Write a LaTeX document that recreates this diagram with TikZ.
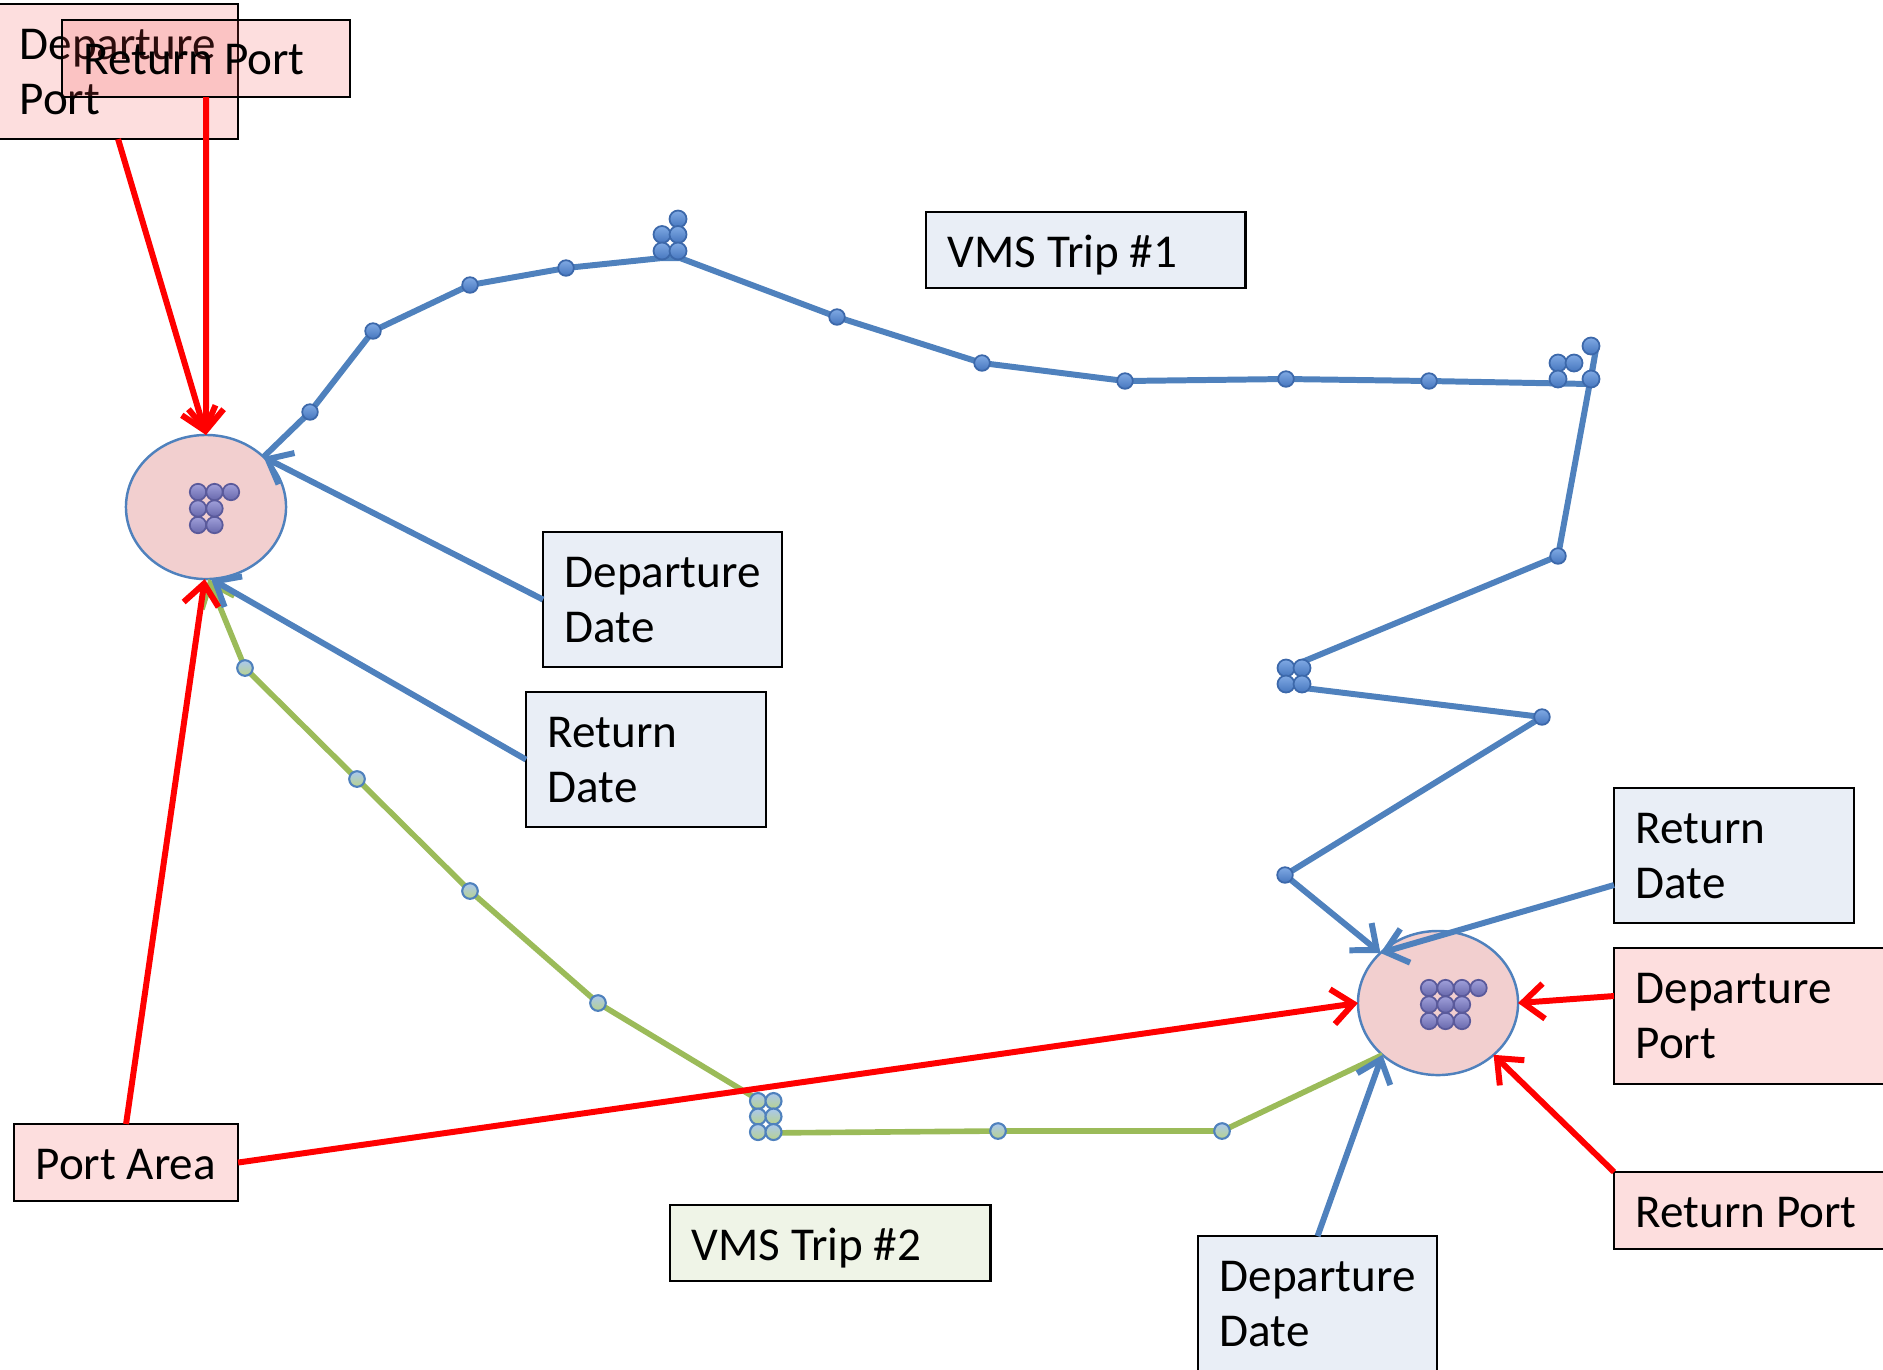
\documentclass[tikz,border=0pt]{standalone}
\usepackage{fontspec}
\setmainfont{Carlito}
\usetikzlibrary{arrows.meta,calc,shapes.geometric}
\definecolor{tripblue}{RGB}{79,129,189}
\definecolor{tripgreen}{RGB}{155,187,89}
\definecolor{arrowred}{RGB}{255,0,0}
\definecolor{pinkfill}{RGB}{244,72,72}
\definecolor{boxblue}{RGB}{233,238,246}
\definecolor{boxgreen}{RGB}{239,244,231}
\definecolor{ellfill}{RGB}{242,207,207}
\definecolor{ellblue}{RGB}{79,129,189}
\newcommand\twolines[2]{\vtop{\hbox{#1}\hbox{#2}}}
\begin{document}
\begin{tikzpicture}[x=0.01cm,y=-0.01cm,
  boxbase/.style={rectangle, draw=black, line width=0.75pt, anchor=north west, inner sep=0pt, outer sep=0pt},
  pinkbox/.style={boxbase, fill=pinkfill, fill opacity=0.18},
  bluebox/.style={boxbase, fill=boxblue},
  greenbox/.style={boxbase, fill=boxgreen},
  lbl/.style={anchor=base west, inner sep=0pt, font=\fontsize{13.4pt}{15.9pt}\selectfont},
  port/.style={ellipse, draw=ellblue, line width=0.7pt, fill=ellfill, minimum width=1.60cm, minimum height=1.44cm, inner sep=0pt, outer sep=0pt},
  redarrow/.style={draw=arrowred, line width=1.7pt, -{Straight Barb[length=6pt,width=10pt]}},
  bluearrow/.style={draw=tripblue, line width=1.7pt, -{Straight Barb[length=6pt,width=10pt]}},
  tripone/.style={draw=tripblue, line width=1.7pt, line join=round},
  triptwo/.style={draw=tripgreen, line width=1.6pt, line join=round},
  ballone/.style={top color={rgb,255:red,128;green,170;blue,228}, bottom color={rgb,255:red,70;green,118;blue,190}, draw={rgb,255:red,60;green,104;blue,170}, line width=0.5pt},
  balltwo/.style={top color={rgb,255:red,170;green,200;blue,240}, bottom color={rgb,255:red,184;green,210;blue,140}, draw={rgb,255:red,79;green,129;blue,189}, line width=0.6pt},
  ballport/.style={top color={rgb,255:red,160;green,160;blue,218}, bottom color={rgb,255:red,104;green,104;blue,172}, draw={rgb,255:red,90;green,90;blue,155}, line width=0.5pt}
]
\useasboundingbox (0,0) rectangle (1883,1369);
\clip (0,0) rectangle (1883,1369);

% port areas
\node[port] (e1) at (206,507) {};
\node[port] (e2) at (1438,1003) {};
\foreach \p in {(198,492),(214.5,492),(231,492),(198,508.5),(214.5,508.5),(198,525),(214.5,525)}
  \shadedraw[ballport] \p circle (0.082cm);
\foreach \p in {(1429,988),(1445.5,988),(1462,988),(1478.5,988),(1429,1004.5),(1445.5,1004.5),(1462,1004.5),(1429,1021),(1445.5,1021),(1462,1021)}
  \shadedraw[ballport] \p circle (0.082cm);

% trip 1 coordinates
\coordinate (t1) at (310,412);
\coordinate (t2) at (373,331);
\coordinate (t3) at (470,285);
\coordinate (t4) at (566,268);
\coordinate (t5) at (837,317);
\coordinate (t6) at (982,363);
\coordinate (t7) at (1125,381);
\coordinate (t8) at (1286,379);
\coordinate (t9) at (1429,381);
\coordinate (t10) at (1558,556);
\coordinate (t11) at (1542,717);
\coordinate (t12) at (1285,875);

% trip 2 coordinates
\coordinate (g1) at (245,668);
\coordinate (g2) at (357,779);
\coordinate (g3) at (470,891);
\coordinate (g4) at (598,1003);
\coordinate (g5) at (998,1131);
\coordinate (g6) at (1222,1131);

% trip 2 line and dots
\draw[triptwo, {Straight Barb[length=6pt,width=10pt]}-] (e1.-88) -- (g1) -- (g2) -- (g3) -- (g4) -- (752,1096) -- (760,1133) -- (g5) -- (g6) -- (e2.-137);
\foreach \p in {(g1),(g2),(g3),(g4),(g5),(g6)}
  \shadedraw[balltwo] \p circle (0.078cm);
\foreach \p in {(758,1101),(773.5,1101),(758,1116.5),(773.5,1116.5),(758,1132),(773.5,1132)}
  \shadedraw[balltwo] \p circle (0.08cm);

% trip 1 line and dots
\draw[tripone, -{Straight Barb[length=6pt,width=10pt]}] (e1.41) -- (t1) -- (t2) -- (t3) -- (t4) -- (662,258) -- (680,258) -- (t5) -- (t6) -- (t7) -- (t8) -- (t9) -- (1590,384) -- (1596,349) -- (t10) -- (1302,662) -- (1304,688) -- (t11) -- (t12) -- (e2.139);
\foreach \p in {(t1),(t2),(t3),(t4),(t5),(t6),(t7),(t8),(t9),(t10),(t11),(t12)}
  \shadedraw[ballone] \p circle (0.078cm);
\foreach \p in {(678,219),(662,234.5),(678,234.5),(662,251),(678,251),
                (1558,363),(1574,363),(1591,346),(1558,379),(1591,379),
                (1286,668),(1302,668),(1286,684),(1302,684)}
  \shadedraw[ballone] \p circle (0.085cm);

% boxes and labels
\node[pinkbox, minimum width=2.40cm, minimum height=1.35cm] (dp1) at (-2,4) {};
\node[lbl] (dp1t) at ($(dp1.north west)+(21,55)$) {\twolines{Departure}{Port}};
\node[pinkbox, minimum width=2.88cm, minimum height=0.77cm] (rp1) at (62,20) {};
\node[lbl] (rp1t) at ($(rp1.north west)+(21,54)$) {Return Port};

\node[bluebox, minimum width=3.19cm, minimum height=0.76cm] (vms1) at (926,212) {};
\node[lbl] (vms1t) at ($(vms1.north west)+(21,55)$) {VMS Trip \#1};

\node[bluebox, minimum width=2.39cm, minimum height=1.35cm] (dd1) at (543,532) {};
\node[lbl] (dd1t) at ($(dd1.north west)+(21,55)$) {\twolines{Departure}{Date}};

\node[bluebox, minimum width=2.40cm, minimum height=1.35cm] (rd1) at (526,692) {};
\node[lbl] (rd1t) at ($(rd1.north west)+(21,55)$) {\twolines{Return}{Date}};

\node[bluebox, minimum width=2.40cm, minimum height=1.35cm] (rd2) at (1614,788) {};
\node[lbl] (rd2t) at ($(rd2.north west)+(21,55)$) {\twolines{Return}{Date}};

\node[pinkbox, minimum width=2.90cm, minimum height=1.36cm] (dp2) at (1614,948) {};
\node[lbl] (dp2t) at ($(dp2.north west)+(21,55)$) {\twolines{Departure}{Port}};

\node[pinkbox, minimum width=2.90cm, minimum height=0.77cm] (rp2) at (1614,1172) {};
\node[lbl] (rp2t) at ($(rp2.north west)+(21,55)$) {Return Port};

\node[pinkbox, minimum width=2.24cm, minimum height=0.77cm] (pa) at (14,1124) {};
\node[lbl] (pat) at ($(pa.north west)+(21,55)$) {Port Area};

\node[greenbox, minimum width=3.20cm, minimum height=0.76cm] (vms2) at (670,1205) {};
\node[lbl] (vms2t) at ($(vms2.north west)+(21,55)$) {VMS Trip \#2};

\node[bluebox, minimum width=2.39cm, minimum height=1.50cm] (dd2) at (1198,1236) {};
\node[lbl] (dd2t) at ($(dd2.north west)+(21,55)$) {\twolines{Departure}{Date}};

% blue arrows
\draw[bluearrow] (dd1.west) -- (e1.41);
\draw[bluearrow] (rd1.west) -- (e1.-86);
\draw[bluearrow] ($(rd2.north west)+(0,97)$) -- (e2.139);
\draw[bluearrow] (dd2.north) -- (e2.-137);

% red arrows
\draw[redarrow] (dp1.south) -- (e1.north);
\draw[redarrow] (rp1.south) -- (e1.north);
\draw[redarrow] (pa.north) -- (e1.-91);
\draw[redarrow] (pa.east) -- (e2.west);
\draw[redarrow] ($(dp2.north west)+(0,48)$) -- (e2.east);
\draw[redarrow] (rp2.north west) -- (e2.-43);
\end{tikzpicture}
\end{document}
